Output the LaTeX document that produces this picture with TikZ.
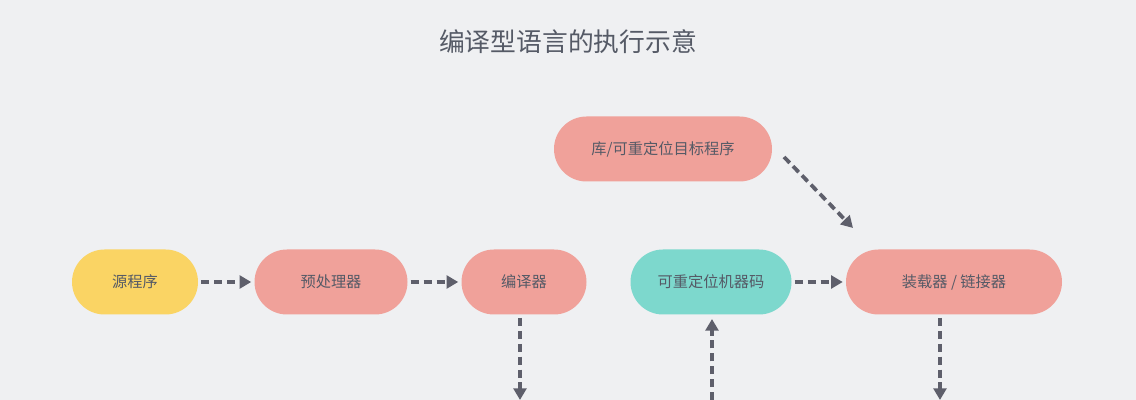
\documentclass[tikz,border=0pt]{standalone}
\usepackage{fontspec}
\setmainfont{Noto Sans CJK SC}
\usetikzlibrary{arrows.meta}
\definecolor{bg}{HTML}{EFF0F2}
\definecolor{txt}{HTML}{555A66}
\definecolor{ylw}{HTML}{FAD464}
\definecolor{sal}{HTML}{F0A19A}
\definecolor{teal}{HTML}{7DD8CD}
\definecolor{arr}{HTML}{5E5F6B}
\tikzset{
  pill/.style={rounded corners=32.5*0.03cm, minimum height=65*0.03cm, text=txt, font=\fontsize{13}{15}\selectfont, inner sep=0pt, drop shadow/.style={}},
  flow/.style={draw=arr, line width=3.2pt, dash pattern=on 7pt off 4pt, -{Triangle[length=10pt,width=11pt]}},
}
\begin{document}
\begin{tikzpicture}[x=0.03cm,y=-0.03cm]
\fill[bg] (0,0) rectangle (1136,400);
\useasboundingbox (0,0) rectangle (1136,400);
\node[text=txt, font=\fontsize{22}{26}\selectfont] (title) at (568,42) {编译型语言的执行示意};
\node[pill, fill=ylw, minimum width=126*0.03cm] (src) at (135,282) {源程序};
\node[pill, fill=sal, minimum width=153*0.03cm] (pre) at (331,282) {预处理器};
\node[pill, fill=sal, minimum width=125*0.03cm] (cmp) at (524,282) {编译器};
\node[pill, fill=teal, minimum width=161*0.03cm] (obj) at (711,282) {可重定位机器码};
\node[pill, fill=sal, minimum width=216*0.03cm] (ld) at (954,282) {装载器 / 链接器};
\node[pill, fill=sal, minimum width=218*0.03cm] (lib) at (663,149) {库/可重定位目标程序};
\coordinate (c1) at (520,400);
\coordinate (c2) at (712,400);
\coordinate (c3) at (940,400);
\coordinate (l1) at (784,157);
\coordinate (l2) at (853,228);
\draw[flow] (src.east) ++(3,0) -- ([xshift=-3*0.03cm]pre.west);
\draw[flow] (pre.east) ++(3,0) -- ([xshift=-3*0.03cm]cmp.west);
\draw[flow] (obj.east) ++(3,0) -- ([xshift=-3*0.03cm]ld.west);
\draw[flow] (l1) -- (l2);
\draw[flow] (520,318) -- (c1);
\draw[flow] (c2) -- (712,319);
\draw[flow] (940,318) -- (c3);
\end{tikzpicture}
\end{document}
